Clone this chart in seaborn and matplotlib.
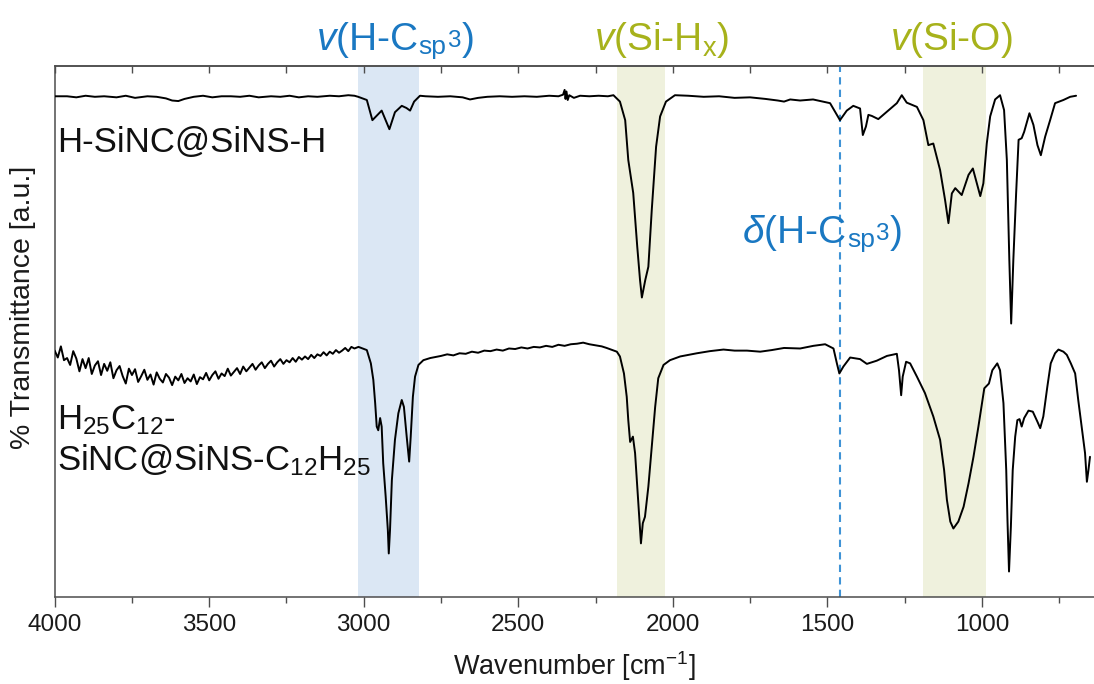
import matplotlib
matplotlib.use("Agg")
import matplotlib.pyplot as plt
import matplotlib.transforms as mtransforms
from matplotlib.ticker import MultipleLocator
import pandas as pd
import seaborn as sns

# ---------------------------------------------------------------- data
# H-terminated sample (upper trace), transmittance in arbitrary units
top_wn = [4000, 3960, 3930, 3900, 3870, 3840, 3800, 3770, 3740, 3700, 3670, 3640,
          3620, 3600, 3580, 3550, 3520, 3490, 3460, 3430, 3400, 3370, 3340, 3300,
          3270, 3240, 3210, 3180, 3150, 3110, 3080, 3050, 3030, 3018,
          2990, 2972, 2942, 2917, 2899, 2877, 2862, 2850, 2837, 2818,
          2800, 2760, 2720, 2680, 2656, 2630, 2600, 2560, 2520, 2480, 2440, 2400,
          2370, 2355, 2350, 2347, 2344, 2340, 2335, 2320, 2300, 2270, 2240, 2210, 2192,
          2171, 2154, 2144, 2128, 2115, 2106, 2100, 2089, 2079, 2068, 2054, 2041, 2022, 1993,
          1950, 1900, 1850, 1800, 1750, 1700, 1660, 1640, 1620, 1588,
          1546, 1491, 1469, 1459, 1437, 1416, 1394, 1385, 1375, 1367, 1356, 1335,
          1307, 1275, 1259, 1243, 1210, 1189, 1173, 1157, 1135, 1119, 1108, 1097,
          1086, 1065, 1043, 1029, 1016, 1005, 995, 984, 973, 957, 941, 928, 919,
          911, 905, 898, 889, 881, 871, 863, 846, 833, 820, 809, 795, 779, 763,
          736, 714, 695]
top_T = [94.3, 94.3, 94.1, 94.4, 94.2, 94.3, 94.1, 94.4, 94.0, 94.3, 94.2, 93.9,
         93.5, 93.4, 93.8, 94.2, 94.4, 94.1, 94.3, 94.3, 94.2, 94.4, 94.1, 94.3,
         94.2, 94.4, 94.1, 94.3, 94.2, 94.4, 94.3, 94.5, 94.4, 94.2,
         93.6, 89.8, 91.6, 88.1, 91.3, 92.5, 92.1, 91.6, 93.3, 94.4,
         94.3, 94.2, 94.3, 94.1, 93.7, 94.0, 94.2, 94.3, 94.2, 94.3, 94.2, 94.4,
         94.3, 94.6, 95.5, 93.8, 95.2, 93.6, 94.5, 94.0, 94.4, 94.3, 94.4, 94.3, 94.5,
         93.3, 89.8, 82.3, 76.1, 66.0, 59.7, 56.4, 59.7, 62.2, 72.9, 84.8, 90.5, 93.3, 94.5,
         94.4, 94.2, 94.3, 94.0, 94.1, 93.8, 93.5, 93.3, 93.7, 93.5,
         93.7, 93.0, 90.8, 89.8, 91.6, 92.5, 92.0, 87.0, 88.6, 90.8, 90.6, 90.0,
         91.4, 93.0, 94.5, 93.1, 92.3, 89.8, 85.1, 85.4, 80.4, 74.8, 70.4, 76.0,
         77.0, 75.7, 79.5, 80.7, 77.9, 75.5, 77.9, 85.4, 90.5, 93.7, 94.5, 91.7, 82.3,
         63.5, 51.5, 63.5, 76.0, 86.1, 86.4, 87.6, 91.1, 88.9, 85.1, 83.2, 86.7, 89.8, 93.0,
         93.6, 94.2, 94.4]

# Dodecyl-terminated sample (lower trace)
bottom_wn = [4000, 3990, 3980, 3970, 3960, 3950, 3940, 3930, 3920, 3910,
             3900, 3890, 3880, 3870, 3860, 3850, 3840, 3830, 3820, 3810,
             3800, 3790, 3780, 3770, 3760, 3750, 3740, 3730, 3720, 3710,
             3700, 3690, 3680, 3670, 3660, 3650, 3640, 3630, 3620, 3610,
             3600, 3590, 3580, 3570, 3560, 3550, 3540, 3530, 3520, 3510,
             3500, 3490, 3480, 3470, 3460, 3450, 3440, 3430, 3420, 3410,
             3400, 3390, 3380, 3370, 3360, 3350, 3340, 3330, 3320, 3310,
             3300, 3290, 3280, 3270, 3260, 3250, 3240, 3230, 3220, 3210,
             3200, 3190, 3180, 3170, 3160, 3150, 3140, 3130, 3120, 3110,
             3100, 3090, 3080, 3070, 3060, 3050, 3040, 3030,
             3017, 2990, 2977, 2969, 2963, 2958, 2953, 2947, 2942, 2937, 2929, 2922,
             2919, 2915, 2909, 2899, 2888, 2877, 2870, 2861, 2853, 2848, 2841, 2834,
             2823, 2807, 2785,
             2750, 2730, 2710, 2690, 2670, 2650, 2630, 2610, 2590, 2570, 2550, 2530,
             2510, 2490, 2470, 2450, 2430, 2410, 2390, 2370, 2350, 2330, 2310, 2290,
             2270, 2250, 2230, 2214, 2195,
             2181, 2171, 2158, 2149, 2144, 2138, 2129, 2122, 2115, 2108, 2103, 2097,
             2090, 2079, 2068, 2057, 2047, 2030, 2009, 1976, 1922, 1880, 1836, 1800,
             1760, 1717,
             1680, 1640, 1588, 1545, 1507, 1480, 1469, 1461, 1448, 1426, 1394, 1372,
             1340, 1307, 1275, 1268, 1261, 1256, 1245, 1232, 1210, 1184, 1157, 1135,
             1122, 1113, 1102, 1092, 1076, 1059, 1043, 1027, 1011, 992, 977, 966,
             950, 941, 930, 921, 917, 912, 906, 900, 892, 885, 878, 871, 863, 849,
             835, 820, 811, 801, 788, 777, 763, 752, 736, 725, 712, 698, 688, 677,
             666, 660, 655, 650]
bottom_T = [46.4, 45.1, 47.2, 44.6, 45.0, 43.7, 46.3, 44.9, 42.5, 44.8,
            43.1, 45.0, 42.0, 43.6, 44.4, 41.8, 43.9, 42.6, 44.2, 41.2,
            42.7, 43.5, 41.6, 40.2, 43.0, 41.8, 42.9, 40.5, 41.6, 42.8,
            40.9, 41.9, 40.0, 42.3, 41.1, 40.4, 42.0, 41.3, 39.9, 41.5,
            40.8, 42.0, 40.3, 41.2, 40.6, 41.9, 40.1, 41.4, 41.0, 42.2,
            40.8, 41.8, 42.5, 41.1, 42.1, 41.6, 43.0, 41.7, 42.4, 43.1,
            42.0, 43.4, 42.5, 43.2, 43.9, 42.8, 43.6, 44.2, 43.1, 43.9,
            44.5, 43.4, 44.2, 44.8, 43.9, 44.6, 44.2, 45.0, 44.3, 45.2,
            44.7, 45.3, 44.8, 45.6, 45.0, 45.7, 45.4, 46.1, 45.5, 46.2,
            45.8, 46.5, 46.0, 46.4, 46.9, 46.3, 47.1, 46.8,
            47.1, 46.5, 44.0, 40.9, 36.5, 32.1, 31.4, 33.7, 32.1, 25.2, 18.9, 12.6,
            8.2, 12.6, 22.0, 29.6, 34.6, 37.1, 35.8, 30.2, 25.5, 30.2, 37.7, 41.5,
            43.7, 44.6, 45.0,
            45.4, 45.7, 45.5, 45.9, 45.8, 46.2, 46.0, 46.4, 46.3, 46.6, 46.4, 46.8,
            46.7, 47.0, 46.8, 47.1, 47.0, 47.3, 47.1, 47.5, 47.3, 47.6, 47.7, 47.9,
            47.6, 47.4, 47.2, 46.9, 46.5,
            46.2, 45.3, 42.1, 37.7, 33.3, 29.2, 30.2, 27.1, 20.8, 14.5, 10.1, 13.9,
            15.1, 20.8, 28.3, 35.8, 41.2, 43.7, 44.6, 45.3, 45.9, 46.3, 46.6, 46.4,
            46.4, 46.2,
            46.5, 46.9, 46.8, 47.3, 47.6, 46.8, 44.0, 42.1, 43.4, 45.1, 44.8, 43.9,
            44.5, 45.4, 45.8, 42.7, 38.0, 41.5, 44.3, 44.0, 41.5, 38.4, 34.0, 29.6,
            23.9, 18.3, 14.2, 12.9, 14.2, 17.0, 21.4, 26.4, 32.1, 39.3, 40.2, 42.7,
            44.0, 42.7, 36.5, 23.9, 14.5, 4.8, 13.2, 23.9, 30.2, 33.3, 33.5, 32.1, 33.7, 35.1,
            34.9, 33.0, 31.8, 34.0, 39.6, 44.0, 45.9, 46.6, 46.2, 45.6, 44.0, 42.1, 37.1, 32.1,
            27.1, 21.7, 23.9, 26.4]

# assignment bands (cm^-1) and the deformation marker
band_ch = (3020, 2820)
band_sih = (2180, 2025)
band_sio = (1190, 985)
delta_ch = 1460

x_ticks = [4000, 3500, 3000, 2500, 2000, 1500, 1000]

# ---------------------------------------------------------------- style
sns.set_theme(style="white")
plt.rcParams["font.family"] = ["Liberation Sans", "DejaVu Sans"]
plt.rcParams["mathtext.fontset"] = "custom"
plt.rcParams["mathtext.rm"] = "Liberation Sans"
plt.rcParams["mathtext.it"] = "Liberation Sans:italic"
plt.rcParams["mathtext.bf"] = "Liberation Sans:bold"

BLUE = "#1a78c2"
OLIVE = "#a7b21b"
SPINE = "#4d4d4d"
INK = "#111111"
TITLE_FS = 28

top_df = pd.DataFrame({"wavenumber": top_wn, "T": top_T})
bottom_df = pd.DataFrame({"wavenumber": bottom_wn, "T": bottom_T})

fig = plt.figure(figsize=(10.94, 6.84), dpi=100)
ax = fig.add_axes([0.05, 0.1272, 0.95, 0.7763])

ax.axvspan(*band_ch, color="#dbe7f4", lw=0, zorder=0)
ax.axvspan(*band_sih, color="#eff1dd", lw=0, zorder=0)
ax.axvspan(*band_sio, color="#eff1dd", lw=0, zorder=0)
ax.axvline(delta_ch, color="#3f93d6", lw=1.5, ls=(0, (3.5, 2.5)), zorder=1)

sns.lineplot(data=top_df, x="wavenumber", y="T", sort=False, estimator=None,
             color="black", lw=1.4, ax=ax, zorder=3)
sns.lineplot(data=bottom_df, x="wavenumber", y="T", sort=False, estimator=None,
             color="black", lw=1.4, ax=ax, zorder=3)

ax.set_xlim(4000, 637)
ax.set_ylim(0, 100)
ax.set_yticks([])
ax.set_xticks(x_ticks)
ax.xaxis.set_minor_locator(MultipleLocator(250))
ax.tick_params(axis="x", which="major", bottom=True, top=False, direction="out",
               length=7, width=1, color=SPINE, labelsize=17.5, pad=5,
               labelcolor="#1a1a1a")
ax.tick_params(axis="x", which="minor", bottom=True, top=False, direction="out",
               length=4, width=1, color=SPINE)

for side in ("left", "bottom", "top"):
    ax.spines[side].set_color(SPINE)
    ax.spines[side].set_linewidth(1.1)
ax.spines["right"].set_visible(False)

# inward ticks along the upper frame
sec = ax.secondary_xaxis("top")
sec.xaxis.set_major_locator(MultipleLocator(250))
sec.tick_params(axis="x", which="major", direction="in", length=5, width=1,
                color=SPINE, labeltop=False)
sec.spines["top"].set_color(SPINE)
sec.spines["top"].set_linewidth(1.1)

ax.set_xlabel(r"Wavenumber [cm$^{\mathrm{-1}}$]", fontsize=19.5, color="#1a1a1a",
              labelpad=10)
ax.set_ylabel("% Transmittance [a.u.]", fontsize=20.5, color="#1a1a1a")
ax.yaxis.label.set(rotation_mode="default", ha="center", va="center")
ax.yaxis.set_label_coords(-0.0305, 0.545)


def sp3_label(x, y, head, transform, ycoords, color):
    """Head text followed by an 'sp' subscript, a raised '3' and ')'."""
    head_t = ax.text(x, y, head, transform=transform, ha="left", va="baseline",
                     fontsize=TITLE_FS, color=color, zorder=2)
    sub_t = ax.annotate("sp", xy=(1, y), xycoords=(head_t, ycoords),
                        xytext=(0.4, -3.2), textcoords="offset points",
                        ha="left", va="baseline", fontsize=TITLE_FS * 0.68,
                        color=color, zorder=2)
    sup_t = ax.annotate("3", xy=(1, y), xycoords=(sub_t, ycoords),
                        xytext=(0.4, 1.9), textcoords="offset points",
                        ha="left", va="baseline", fontsize=TITLE_FS * 0.62,
                        color=color, zorder=2)
    ax.annotate(")", xy=(1, y), xycoords=(sup_t, ycoords),
                xytext=(1.0, 0), textcoords="offset points",
                ha="left", va="baseline", fontsize=TITLE_FS, color=color,
                zorder=2)


# band assignments above the frame
tr = mtransforms.blended_transform_factory(ax.transData, ax.transAxes)
sp3_label(3154, 1.031, r"$v$(H-C", tr, "axes fraction", BLUE)
ax.text(2035, 1.031, r"$v$(Si-H$_{\mathrm{x}}$)", transform=tr, ha="center",
        va="baseline", fontsize=TITLE_FS, color=OLIVE)
ax.text(1099, 1.031, r"$v$(Si-O)", transform=tr, ha="center",
        va="baseline", fontsize=TITLE_FS, color=OLIVE)
sp3_label(1775, 66.7, r"$\delta$(H-C", ax.transData, "data", BLUE)

# sample names
tra = mtransforms.blended_transform_factory(ax.transAxes, ax.transData)
ax.text(0.002, 83.8, "H-SiNC@SiNS-H", transform=tra, ha="left", va="baseline",
        fontsize=25, color=INK)
ax.text(0.002, 31.6, r"H$_{\mathrm{25}}$C$_{\mathrm{12}}$-", transform=tra,
        ha="left", va="baseline", fontsize=25, color=INK)
ax.text(0.002, 23.9, r"SiNC@SiNS-C$_{\mathrm{12}}$H$_{\mathrm{25}}$", transform=tra,
        ha="left", va="baseline", fontsize=25, color=INK)

fig.savefig("out.png", dpi=100)
